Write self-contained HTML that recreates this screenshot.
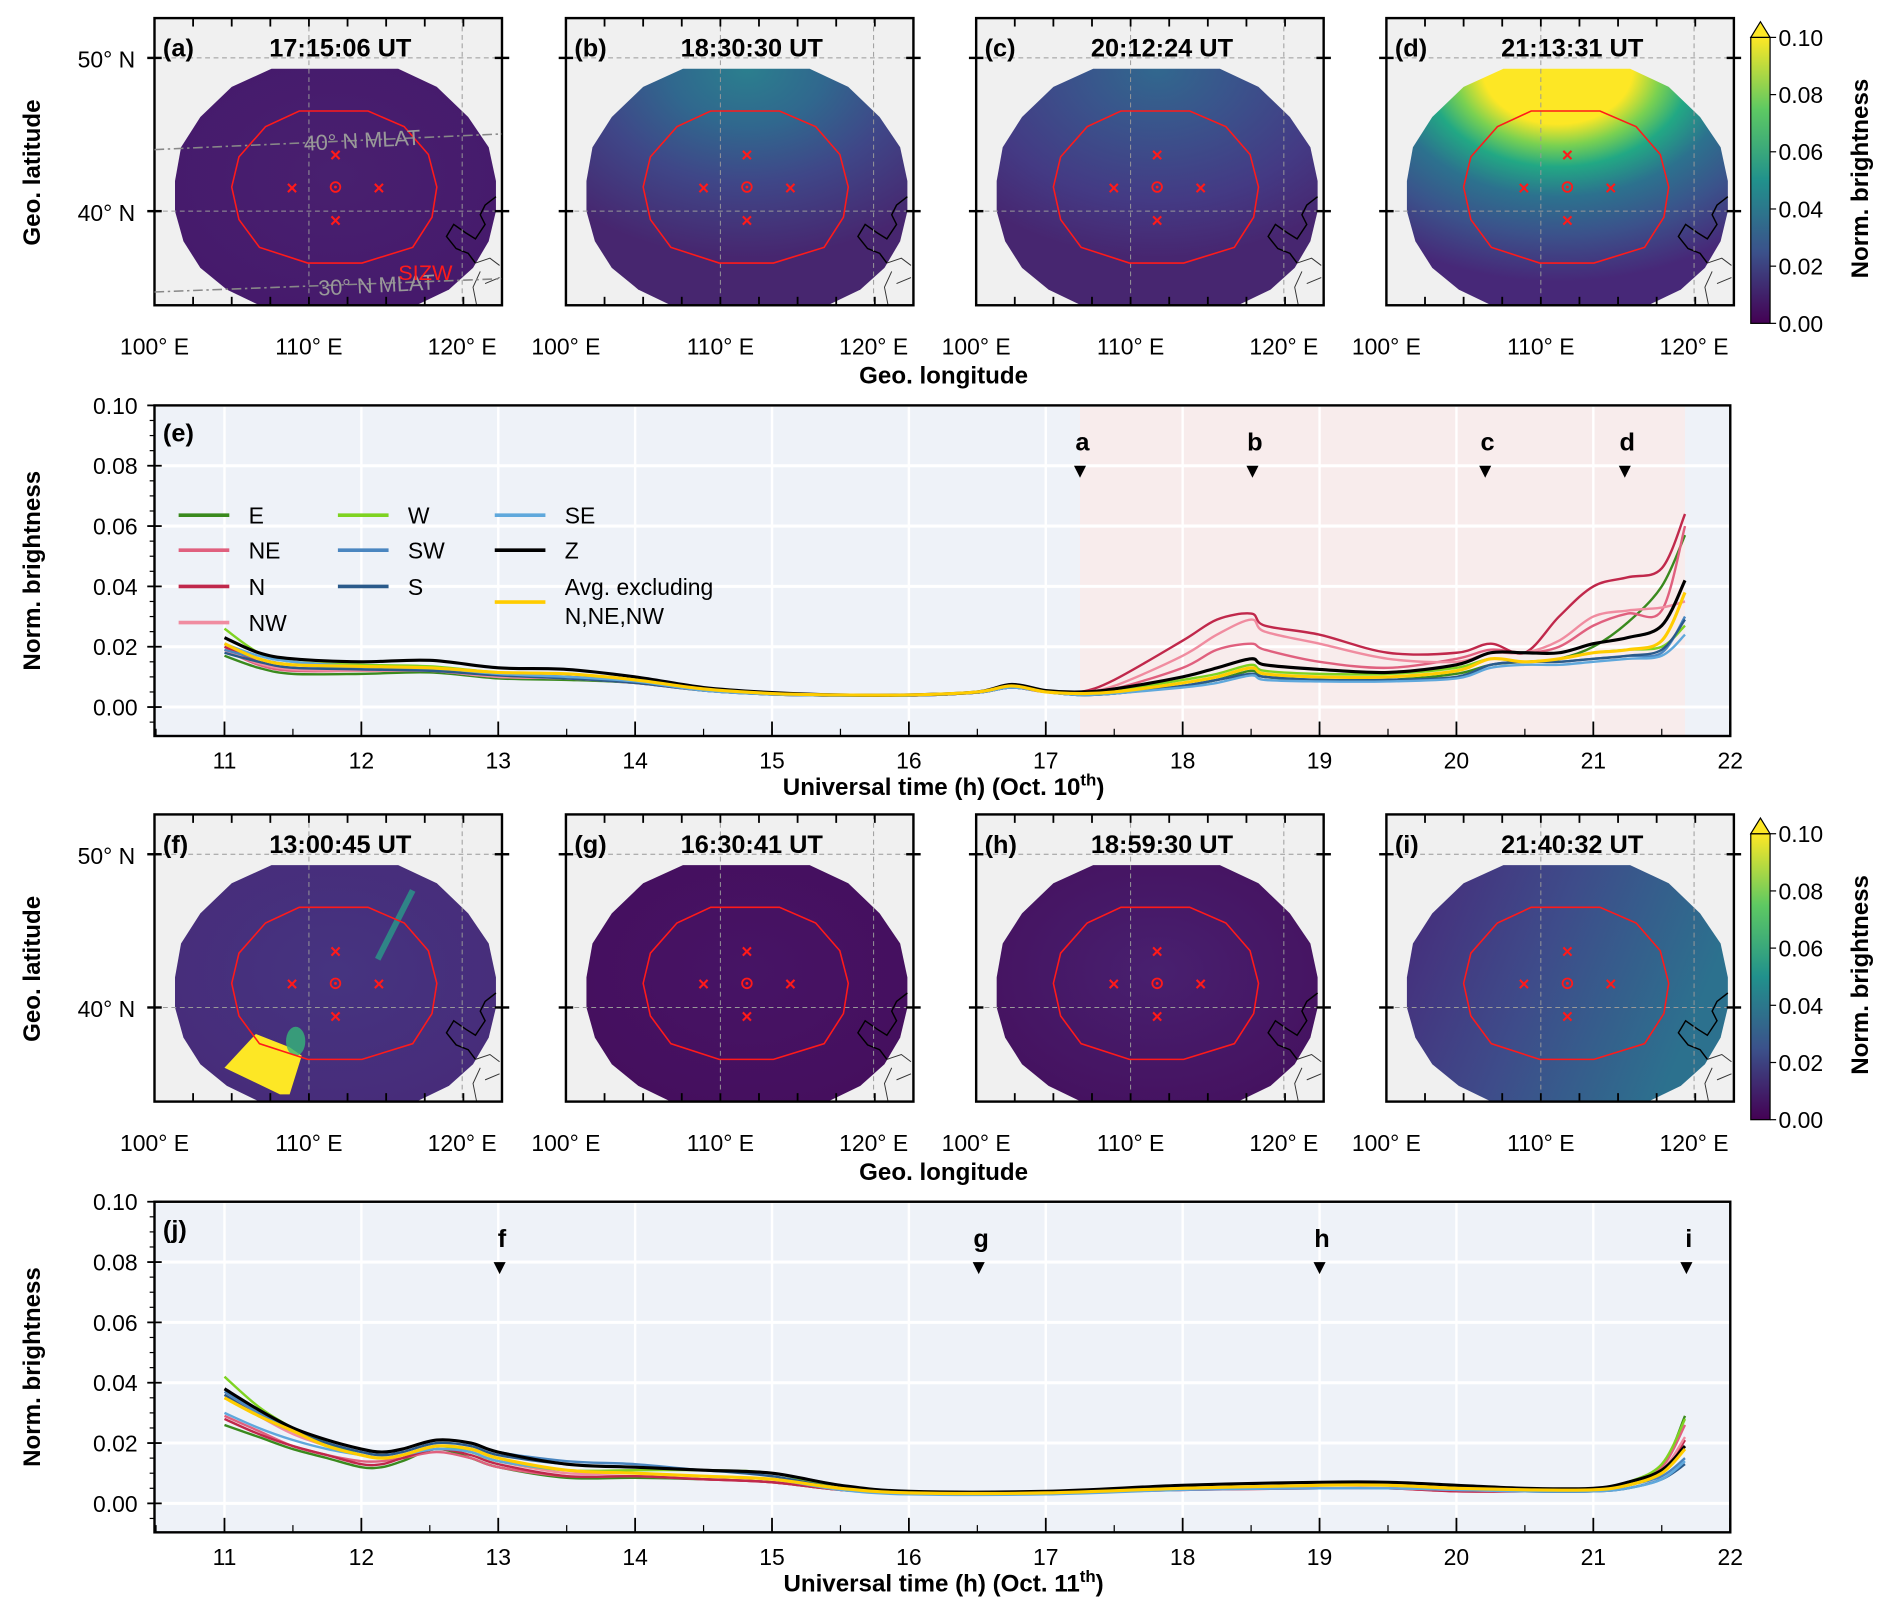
<!DOCTYPE html>
<html><head><meta charset="utf-8"><style>
html,body{margin:0;padding:0;background:#fff;}
svg{display:block;font-family:"Liberation Sans",Arial,sans-serif;}
</style></head><body>
<svg id="fig" xmlns="http://www.w3.org/2000/svg" width="1892" height="1618" viewBox="0 0 1568 1341">
<defs>
<radialGradient id="gA" cx="0.5" cy="0.45" r="0.6"><stop offset="0" stop-color="#48206f"/><stop offset="1" stop-color="#461a6c"/></radialGradient>
<radialGradient id="gB" cx="0.5" cy="0.0" r="0.8"><stop offset="0" stop-color="#2b7f8e"/><stop offset="0.3" stop-color="#30688e"/><stop offset="0.6" stop-color="#3f4788"/><stop offset="1" stop-color="#47266f"/></radialGradient>
<radialGradient id="gC" cx="0.5" cy="0.0" r="0.8"><stop offset="0" stop-color="#31688e"/><stop offset="0.35" stop-color="#3b518b"/><stop offset="0.7" stop-color="#443a84"/><stop offset="1" stop-color="#472670"/></radialGradient>
<radialGradient id="gD" cx="0.47" cy="0.0" r="0.9"><stop offset="0" stop-color="#fde725"/><stop offset="0.26" stop-color="#fde725"/><stop offset="0.36" stop-color="#7ad151"/><stop offset="0.46" stop-color="#22a884"/><stop offset="0.6" stop-color="#2c728e"/><stop offset="0.78" stop-color="#3b528b"/><stop offset="1" stop-color="#472878"/></radialGradient>
<radialGradient id="gF" cx="0.5" cy="0.45" r="0.6"><stop offset="0" stop-color="#463480"/><stop offset="1" stop-color="#472c7a"/></radialGradient>
<radialGradient id="gG" cx="0.5" cy="0.45" r="0.6"><stop offset="0" stop-color="#461465"/><stop offset="1" stop-color="#450f5e"/></radialGradient>
<radialGradient id="gH" cx="0.5" cy="0.45" r="0.6"><stop offset="0" stop-color="#48206f"/><stop offset="1" stop-color="#451260"/></radialGradient>
<linearGradient id="gI" x1="0" y1="0" x2="1" y2="0.3"><stop offset="0" stop-color="#472a7a"/><stop offset="0.5" stop-color="#3e4c8a"/><stop offset="1" stop-color="#2c718e"/></linearGradient>
<linearGradient id="cbar" x1="0" y1="1" x2="0" y2="0"><stop offset="0" stop-color="#440154"/><stop offset="0.25" stop-color="#3b528b"/><stop offset="0.5" stop-color="#21918c"/><stop offset="0.75" stop-color="#5ec962"/><stop offset="1" stop-color="#fde725"/></linearGradient>
</defs>
<g id="root"></g>
</svg>
<script>
// ---------- Chart (e) data: Oct 10 ----------
const timesE = [11,11.25,11.5,12,12.5,13,13.5,14,14.5,15,15.5,16,16.5,16.75,17,17.25,17.5,18,18.25,18.5,18.6,19,19.5,20,20.25,20.5,20.75,21,21.25,21.5,21.67];
const eE  = [0.017,0.013,0.011,0.011,0.0115,0.0095,0.009,0.008,0.0055,0.0042,0.0038,0.0038,0.0048,0.0065,0.005,0.004,0.0045,0.007,0.009,0.012,0.010,0.009,0.009,0.011,0.014,0.015,0.016,0.020,0.028,0.040,0.057];
const eW  = [0.026,0.018,0.015,0.014,0.0135,0.0115,0.011,0.009,0.006,0.0045,0.004,0.004,0.005,0.007,0.005,0.0045,0.0055,0.009,0.011,0.014,0.012,0.011,0.011,0.013,0.016,0.015,0.016,0.018,0.019,0.020,0.027];
const eNE = [0.019,0.014,0.012,0.012,0.012,0.010,0.0095,0.008,0.0055,0.0042,0.0038,0.0038,0.0048,0.0065,0.005,0.0045,0.006,0.013,0.019,0.021,0.019,0.015,0.013,0.016,0.019,0.018,0.020,0.027,0.031,0.032,0.060];
const eN  = [0.020,0.015,0.013,0.0125,0.0125,0.0105,0.010,0.0085,0.0058,0.0043,0.0038,0.0038,0.0048,0.0065,0.005,0.005,0.009,0.022,0.029,0.031,0.027,0.024,0.018,0.018,0.021,0.018,0.030,0.040,0.043,0.046,0.064];
const eNW = [0.019,0.0145,0.0125,0.012,0.012,0.010,0.0095,0.008,0.0055,0.0042,0.0038,0.0038,0.0048,0.0065,0.005,0.005,0.007,0.017,0.024,0.029,0.025,0.021,0.016,0.015,0.018,0.018,0.022,0.030,0.032,0.033,0.035];
const eSW = [0.019,0.016,0.014,0.013,0.0125,0.011,0.010,0.0085,0.0055,0.0042,0.0038,0.0038,0.0048,0.0065,0.005,0.004,0.0045,0.007,0.009,0.011,0.010,0.009,0.009,0.010,0.014,0.015,0.015,0.016,0.017,0.018,0.030];
const eS  = [0.018,0.015,0.013,0.0125,0.012,0.0105,0.0095,0.008,0.0055,0.0042,0.0038,0.0038,0.0048,0.0065,0.005,0.004,0.0045,0.007,0.009,0.011,0.010,0.009,0.009,0.010,0.014,0.015,0.015,0.016,0.017,0.019,0.029];
const eSE = [0.021,0.017,0.015,0.0135,0.013,0.011,0.010,0.0085,0.0055,0.0042,0.0038,0.0038,0.0048,0.0065,0.005,0.004,0.0045,0.0065,0.008,0.0105,0.009,0.0085,0.0085,0.0095,0.013,0.014,0.014,0.015,0.016,0.017,0.024];
const eZ  = [0.023,0.018,0.016,0.015,0.0155,0.013,0.0125,0.010,0.0065,0.0048,0.004,0.004,0.005,0.0075,0.0055,0.005,0.006,0.010,0.013,0.016,0.014,0.0125,0.0115,0.014,0.018,0.018,0.018,0.021,0.023,0.027,0.042];
const eAvg= [0.021,0.016,0.014,0.0135,0.013,0.0115,0.011,0.009,0.006,0.0045,0.004,0.004,0.005,0.007,0.005,0.0045,0.005,0.008,0.010,0.013,0.011,0.010,0.010,0.012,0.016,0.015,0.016,0.018,0.019,0.022,0.038];
const markTimesE = [17.25,18.51,20.21,21.23];
const markLabelsE = ["a","b","c","d"];
// ---------- Chart (j) data: Oct 11 ----------
const timesJ = [11,11.25,11.5,11.75,12,12.15,12.3,12.55,12.8,13,13.5,14,14.5,15,15.5,16,17,18,19,19.5,20,20.5,21,21.25,21.5,21.67];
const jZ  = [0.038,0.031,0.025,0.021,0.018,0.017,0.018,0.021,0.020,0.017,0.013,0.012,0.011,0.010,0.006,0.004,0.004,0.006,0.007,0.007,0.006,0.005,0.005,0.007,0.011,0.019];
const jAvg= [0.035,0.029,0.024,0.019,0.016,0.015,0.016,0.019,0.018,0.015,0.011,0.010,0.009,0.008,0.005,0.0035,0.0035,0.005,0.006,0.006,0.005,0.0045,0.0045,0.006,0.010,0.018];
const jE  = [0.026,0.022,0.018,0.015,0.012,0.012,0.014,0.018,0.015,0.012,0.0085,0.0085,0.008,0.007,0.0045,0.0035,0.0035,0.005,0.005,0.005,0.0045,0.004,0.0045,0.007,0.012,0.029];
const jW  = [0.042,0.032,0.025,0.020,0.016,0.015,0.016,0.019,0.017,0.014,0.011,0.011,0.011,0.010,0.005,0.0035,0.0035,0.005,0.006,0.006,0.005,0.0045,0.0045,0.007,0.013,0.028];
const jNE = [0.029,0.024,0.019,0.016,0.014,0.014,0.015,0.017,0.015,0.012,0.009,0.009,0.008,0.007,0.0045,0.0035,0.0035,0.0045,0.005,0.005,0.004,0.004,0.0045,0.007,0.012,0.026];
const jN  = [0.028,0.023,0.019,0.016,0.013,0.013,0.015,0.018,0.016,0.013,0.009,0.009,0.008,0.007,0.0045,0.0035,0.0035,0.0045,0.005,0.005,0.004,0.004,0.0045,0.006,0.010,0.021];
const jNW = [0.036,0.029,0.023,0.019,0.016,0.015,0.016,0.019,0.017,0.014,0.010,0.010,0.009,0.008,0.005,0.0035,0.0035,0.005,0.005,0.005,0.0045,0.004,0.0045,0.006,0.011,0.022];
const jSW = [0.037,0.030,0.025,0.021,0.018,0.017,0.018,0.021,0.020,0.017,0.014,0.013,0.011,0.010,0.006,0.0035,0.0035,0.005,0.006,0.006,0.005,0.004,0.004,0.006,0.009,0.015];
const jS  = [0.036,0.029,0.024,0.020,0.017,0.016,0.017,0.020,0.019,0.016,0.013,0.012,0.011,0.009,0.005,0.0035,0.0035,0.005,0.006,0.006,0.005,0.004,0.004,0.005,0.008,0.013];
const jSE = [0.030,0.025,0.021,0.018,0.016,0.015,0.016,0.018,0.017,0.014,0.011,0.010,0.009,0.008,0.0045,0.003,0.003,0.0045,0.005,0.005,0.0045,0.004,0.004,0.005,0.008,0.014];
const markTimesJ = [13.01,16.51,19.0,21.68];
const markLabelsJ = ["f","g","h","i"];
const xTicks = [11,12,13,14,15,16,17,18,19,20,21,22];
const yTicks = [0,0.02,0.04,0.06,0.08,0.10];
const yTickLabels = ["0.00","0.02","0.04","0.06","0.08","0.10"];
const cbarTicks = [0,0.02,0.04,0.06,0.08,0.10];
const mapTitles = ["17:15:06 UT","18:30:30 UT","20:12:24 UT","21:13:31 UT","13:00:45 UT","16:30:41 UT","18:59:30 UT","21:40:32 UT"];
const mapLetters = ["(a)","(b)","(c)","(d)","(f)","(g)","(h)","(i)"];

const NS="http://www.w3.org/2000/svg";
const root=document.getElementById('root');
function mk(tag,attrs,parent,text){const e=document.createElementNS(NS,tag);for(const k in attrs)e.setAttribute(k,attrs[k]);if(text!==undefined)e.textContent=text;(parent||root).appendChild(e);return e;}

// ---------- Maps ----------
const disc="225,57 330,57 362,72 388,97 405,122 411,150 411,175 405,200 392,222 372,240 345,253 215,253 188,240 166,222 152,200 145,175 145,150 150,122 166,97 192,72";
const redc="248,92 305,92 335,105 355,128 362,155 358,180 342,205 300,218 255,218 215,205 198,182 192,155 198,130 220,105";
const fills=["url(#gA)","url(#gB)","url(#gC)","url(#gD)","url(#gF)","url(#gG)","url(#gH)","url(#gI)"];
const dxs=[0,341,681,1021];
for(let i=0;i<8;i++){
  const dx=dxs[i%4], dy=i<4?0:660;
  const g=mk('g',{transform:`translate(${dx},${dy})`});
  
  
  const bg=mk('rect',{x:128,y:15,width:288,height:238,fill:'#f0f0f0'},g);
  
  const d=mk('polygon',{points:disc,fill:fills[i]},g);
  
  if(i===4){
    const w=mk('polygon',{points:"186,885 212,857 240,868 250,875 240,907 232,907",fill:'#fde725',transform:'translate(0,-660)'},g);
    
    const gl=mk('ellipse',{cx:245,cy:203,rx:8,ry:12,fill:'#35b779',opacity:0.8},g);
    
    const st=mk('line',{x1:313,y1:135,x2:342,y2:78,stroke:'#2a9a8a','stroke-width':5,opacity:0.8},g);
    
  }
  const cl=mk('path',{d:"M411,163 L402,170 L398,178 L402,186 L394,198 L386,193 L376,186 L370,196 L378,206 L388,210 L394,218",fill:'none',stroke:'#000','stroke-width':1.2},g);
  
  const cl2=mk('path',{d:"M394,218 L406,214 L414,220 M398,225 L392,238 L395,253 M402,235 L414,230",fill:'none',stroke:'#333','stroke-width':0.8},g);
  
  for(const x of [256,383]){const l=mk('line',{x1:x,y1:15,x2:x,y2:253,stroke:'#999','stroke-width':0.8,'stroke-dasharray':'4,3'},g);}
  for(const y of [48,175]){const l=mk('line',{x1:128,y1:y,x2:416,y2:y,stroke:'#999','stroke-width':0.8,'stroke-dasharray':'4,3'},g);
    const t1=mk('line',{x1:122,y1:y,x2:134,y2:y,stroke:'#000','stroke-width':2},g);
    const t2=mk('line',{x1:410,y1:y,x2:422,y2:y,stroke:'#000','stroke-width':2},g);}
  for(let k=0;k<9;k++){const x=160+k*32;const t=mk('line',{x1:x,y1:253,x2:x,y2:246,stroke:'#000','stroke-width':1.5},g);
    const t2=mk('line',{x1:x,y1:15,x2:x,y2:22,stroke:'#000','stroke-width':1.5},g);}
  const rc=mk('polygon',{points:redc,fill:'none',stroke:'#ff1a1a','stroke-width':1.3},g);
  
  for(const [mx,my] of [[278,128],[242,155],[314,155],[278,182]]){
    const m=mk('text',{x:mx,y:my+6,'text-anchor':'middle','font-size':16,'font-weight':'bold',fill:'#ff1a1a'},g,'×');
    }
  const cc=mk('circle',{cx:278,cy:155,r:4,fill:'none',stroke:'#ff1a1a','stroke-width':1.5},g);
  
  mk('circle',{cx:278,cy:155,r:1.2,fill:'#ff1a1a'},g);
  const fr=mk('rect',{x:128,y:15,width:288,height:238,fill:'none',stroke:'#000','stroke-width':2},g);
  
  const lt=mk('text',{x:135,y:47,'font-size':21,'font-weight':'bold'},g,mapLetters[i]);
  
  const tt=mk('text',{x:282,y:47,'font-size':21,'font-weight':'bold','text-anchor':'middle'},g,mapTitles[i]);
  
  [["100° E",128],["110° E",256],["120° E",383]].forEach(([s,x])=>{const t=mk('text',{x:x,y:294,'font-size':19,'text-anchor':'middle'},g,s);});
  if(i%4===0){
    [["50° N",56],["40° N",183]].forEach(([s,y])=>{const t=mk('text',{x:112,y:y,'font-size':19,'text-anchor':'end'},g,s);});
    const yl=mk('text',{x:0,y:0,'font-size':20,'font-weight':'bold','text-anchor':'middle',transform:'translate(33,143) rotate(-90)'},g,'Geo. latitude');
    
  }
  if(i===0){
    const m1=mk('line',{x1:128,y1:124,x2:416,y2:111,stroke:'#888','stroke-width':1.3,'stroke-dasharray':'8,3,2,3'},g);
    const m2=mk('line',{x1:128,y1:242,x2:416,y2:231,stroke:'#888','stroke-width':1.3,'stroke-dasharray':'8,3,2,3'},g);
    const t1=mk('text',{x:252,y:125,'font-size':18,fill:'#999',transform:'rotate(-3 252 125)'},g,'40° N MLAT');
    const t2=mk('text',{x:264,y:245,'font-size':18,fill:'#999',transform:'rotate(-3 264 245)'},g,'30° N MLAT');
    const t3=mk('text',{x:330,y:232,'font-size':18,fill:'#ff1a1a'},g,'SIZW');
  }
}
[318,978].forEach(y=>{const t=mk('text',{x:782,y:y,'font-size':20,'font-weight':'bold','text-anchor':'middle'},root,'Geo. longitude');});
[0,660].forEach(dy=>{
  const g=mk('g',{transform:`translate(0,${dy})`});
  
  mk('rect',{x:1451,y:31,width:16,height:237,fill:'url(#cbar)',stroke:'#000','stroke-width':1},g);
  mk('polygon',{points:"1451,31 1459,18 1467,31",fill:'#fde725',stroke:'#000','stroke-width':1},g);
  cbarTicks.forEach(v=>{const y=268-v/0.1*237;
    mk('line',{x1:1467,y1:y,x2:1472,y2:y,stroke:'#000','stroke-width':1},g);
    const t=mk('text',{x:1474,y:y+7,'font-size':19},g,v.toFixed(2));});
  const lb=mk('text',{x:0,y:0,'font-size':20,'font-weight':'bold','text-anchor':'middle',transform:'translate(1548,148) rotate(-90)'},g,'Norm. brightness');
  
});

// ---------- Line charts ----------
const colors={E:'#3a8a1e',W:'#7ed321',NE:'#e0607e',N:'#c0284b',NW:'#f08ca0',SW:'#4a86c0',S:'#2a5a8a',SE:'#5fa8dc',Z:'#000000',AVG:'#ffcc00'};
function smooth(pts){let d=`M${pts[0][0]},${pts[0][1]}`;for(let i=0;i<pts.length-1;i++){const p0=pts[Math.max(0,i-1)],p1=pts[i],p2=pts[i+1],p3=pts[Math.min(pts.length-1,i+2)];const c1=[p1[0]+(p2[0]-p0[0])/6,p1[1]+(p2[1]-p0[1])/6],c2=[p2[0]-(p3[0]-p1[0])/6,p2[1]-(p3[1]-p1[1])/6];d+=` C${c1[0].toFixed(1)},${c1[1].toFixed(1)} ${c2[0].toFixed(1)},${c2[1].toFixed(1)} ${p2[0].toFixed(1)},${p2[1].toFixed(1)}`;}return d;}
function chart(top,name,times,series,marks,markLabels,shade,dateLabel,letter){
  const y0=top+250;
  const X=t=>186+(t-11)*113.45, Y=v=>y0-v*2500;
  const g=mk('g',{});
  const bg=mk('rect',{x:128,y:top,width:1306,height:274,fill:'#eef2f8'},g);
  if(shade){const s=mk('rect',{x:X(shade[0]),y:top,width:X(shade[1])-X(shade[0]),height:274,fill:'#f8ecec'},g);}
  xTicks.forEach(t=>{const l=mk('line',{x1:X(t),y1:top,x2:X(t),y2:top+274,stroke:'#fff','stroke-width':2},g);});
  yTicks.forEach(v=>{const l=mk('line',{x1:128,y1:Y(v),x2:1434,y2:Y(v),stroke:'#fff','stroke-width':2.5},g);});
  for(const k of ['E','NE','N','NW','W','SW','S','SE','Z','AVG']){
    const pts=times.map((t,i)=>[X(t),Y(series[k][i])]);
    const p=mk('path',{d:smooth(pts),fill:'none',stroke:colors[k],'stroke-width':k==='Z'||k==='AVG'?2.6:2},g);
    
  }
  marks.forEach((t,i)=>{
    const x=X(t);
    const lt=mk('text',{x:x+2,y:Y(0.085),'font-size':21,'font-weight':'bold','text-anchor':'middle'},g,markLabels[i]);
    const tr=mk('polygon',{points:`${x-5},${Y(0.08)} ${x+5},${Y(0.08)} ${x},${Y(0.08)+10}`,fill:'#000'},g);
  });
  const fr=mk('rect',{x:128,y:top,width:1306,height:274,fill:'none',stroke:'#000','stroke-width':2},g);
  xTicks.forEach(t=>{mk('line',{x1:X(t),y1:top+274,x2:X(t),y2:top+262,stroke:'#000','stroke-width':1.5},g);
    const tl=mk('text',{x:X(t),y:top+301,'font-size':19,'text-anchor':'middle'},g,String(t));});
  for(let t=10.5;t<=22;t+=0.5){mk('line',{x1:X(t),y1:top+274,x2:X(t),y2:top+268,stroke:'#000','stroke-width':1},g);}
  yTicks.forEach((v,i)=>{mk('line',{x1:122,y1:Y(v),x2:134,y2:Y(v),stroke:'#000','stroke-width':1.5},g);
    const tl=mk('text',{x:114,y:Y(v)+7,'font-size':19,'text-anchor':'end'},g,yTickLabels[i]);});
  for(let v=-0.005;v<=0.1;v+=0.005){mk('line',{x1:124,y1:Y(v),x2:128,y2:Y(v),stroke:'#000','stroke-width':1},g);}
  const yl=mk('text',{x:0,y:0,'font-size':20,'font-weight':'bold','text-anchor':'middle',transform:`translate(33,${top+137}) rotate(-90)`},g,'Norm. brightness');
  const xl=mk('text',{x:782,y:top+323,'font-size':20,'font-weight':'bold','text-anchor':'middle'},g);
  xl.appendChild(document.createTextNode('Universal time (h) (Oct. '+dateLabel));
  mk('tspan',{dy:-8,'font-size':14},xl,'th');
  mk('tspan',{dy:8},xl,')');
  const pl=mk('text',{x:135,y:top+30,'font-size':21,'font-weight':'bold'},g,letter);
  return g;
}
chart(336,'chart-e-oct10',timesE,{E:eE,W:eW,NE:eNE,N:eN,NW:eNW,SW:eSW,S:eS,SE:eSE,Z:eZ,AVG:eAvg},markTimesE,markLabelsE,[17.25,21.67],'10','(e)');
chart(996,'chart-j-oct11',timesJ,{E:jE,W:jW,NE:jNE,N:jN,NW:jNW,SW:jSW,S:jS,SE:jSE,Z:jZ,AVG:jAvg},markTimesJ,markLabelsJ,null,'11','(j)');

const legendItems=[['E','E',148,427],['NE','NE',148,456],['N','N',148,486],['NW','NW',148,516],['W','W',280,427],['SW','SW',280,456],['S','S',280,486],['SE','SE',410,427],['Z','Z',410,456],['AVG','Avg. excluding',410,486]];
const lg=mk('g',{});
legendItems.forEach(([k,lab,x,y])=>{
  const ly=k==='AVG'?y+13:y;
  const l=mk('line',{x1:x,y1:ly,x2:x+42,y2:ly,stroke:colors[k],'stroke-width':3},lg);
  const t=mk('text',{x:x+58,y:y+7,'font-size':19},lg,lab);
});
const t2=mk('text',{x:468,y:517,'font-size':19},lg,'N,NE,NW');
</script>
</body></html>
